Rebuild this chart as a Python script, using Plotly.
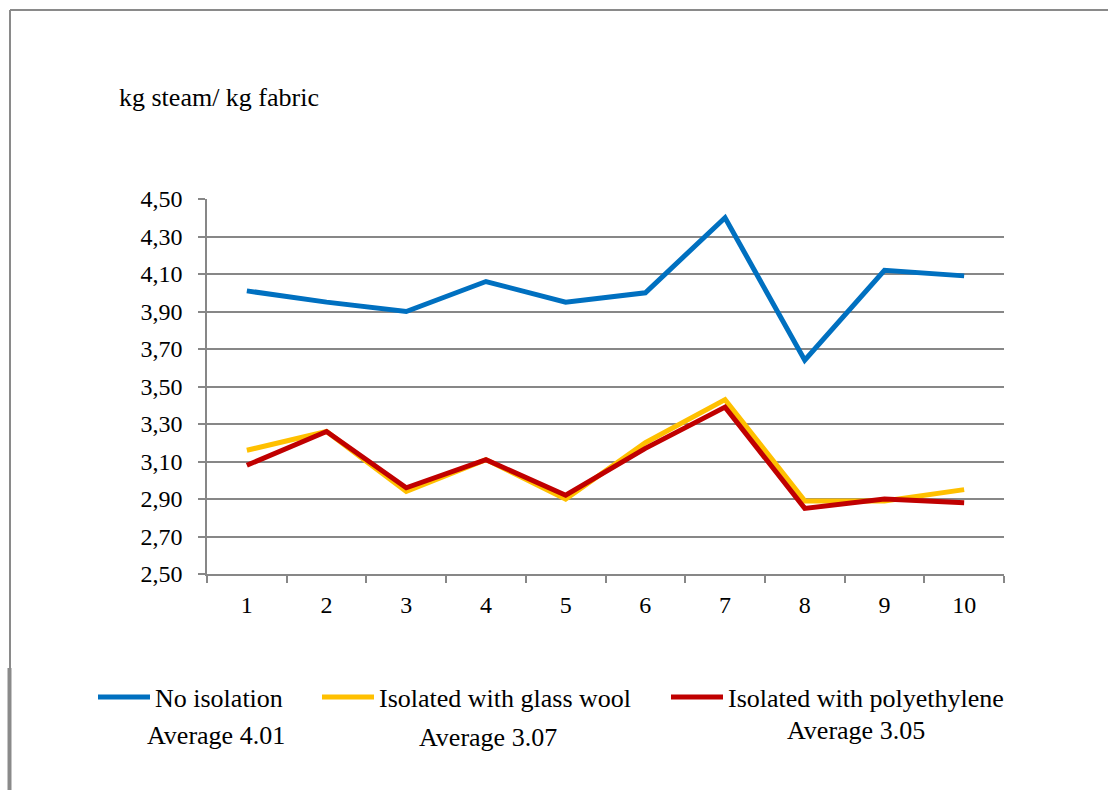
import plotly.graph_objects as go

categories = ["1", "2", "3", "4", "5", "6", "7", "8", "9", "10"]
no_isolation = [4.01, 3.95, 3.90, 4.06, 3.95, 4.00, 4.40, 3.64, 4.12, 4.09]
glass_wool = [3.16, 3.26, 2.94, 3.11, 2.90, 3.20, 3.43, 2.89, 2.89, 2.95]
polyethylene = [3.08, 3.26, 2.96, 3.11, 2.92, 3.17, 3.39, 2.85, 2.90, 2.88]
series_names = ["No isolation", "Isolated with glass wool", "Isolated with polyethylene"]
averages = ["Average 4.01", "Average 3.07", "Average 3.05"]
y_title = "kg steam/ kg fabric"
colors = ["#0070C0", "#FFC000", "#C00000"]

W, H = 1108, 790
L, R, T, B = 207, 104, 199, 216
PW, PH = W - L - R, H - T - B
FONT = "Liberation Serif, Times New Roman, serif"
GRID = "#878787"
TXT = 26
TICK = 24


def px(xp):
    return (xp - L) / PW


def py(yp):
    return (H - B - yp) / PH


fig = go.Figure()
legends = ["legend", "legend2", "legend3"]
for name, vals, col, lg in zip(series_names, [no_isolation, glass_wool, polyethylene], colors, legends):
    fig.add_trace(go.Scatter(x=categories, y=vals, mode="lines", name=name,
                             line=dict(color=col, width=5), legend=lg))

leg_common = dict(orientation="h", xref="container", yref="container", xanchor="left",
                  yanchor="middle", font=dict(family=FONT, size=TXT, color="black"),
                  itemwidth=52, bgcolor="rgba(0,0,0,0)", borderwidth=0)
leg_x = [93, 317, 666]
fig.update_layout(
    legend=dict(x=leg_x[0] / W, y=1 - 697 / H, **leg_common),
    legend2=dict(x=leg_x[1] / W, y=1 - 697 / H, **leg_common),
    legend3=dict(x=leg_x[2] / W, y=1 - 697 / H, **leg_common),
)

fig.update_layout(
    width=W, height=H,
    margin=dict(l=L, r=R, t=T, b=B, autoexpand=False),
    paper_bgcolor="white", plot_bgcolor="white",
    separators=", ",
    font=dict(family=FONT, size=TICK, color="black"),
    showlegend=True,
)
fig.update_xaxes(type="category", range=[-0.5, 9.5], tickson="boundaries", ticks="outside",
                 ticklen=7, tickwidth=1.5, tickcolor=GRID, showgrid=False, showline=True,
                 linecolor=GRID, linewidth=1.5, ticklabelstandoff=8,
                 tickfont=dict(family=FONT, size=TICK, color="black"))
fig.update_yaxes(range=[2.5, 4.5], dtick=0.2, tick0=2.5, tickformat=".2f",
                 showgrid=True, gridcolor=GRID, gridwidth=1.5, zeroline=False,
                 showline=True, linecolor=GRID, linewidth=1.5, ticks="outside",
                 ticklen=7, tickwidth=1.5, tickcolor=GRID, ticklabelstandoff=11,
                 tickfont=dict(family=FONT, size=TICK, color="black"))

annotations = [dict(text=y_title, x=px(117), y=py(98), xanchor="left", yanchor="middle")]
avg_pos = [(216, 735), (488, 737), (856, 730)]
for txt, (ax, ay) in zip(averages, avg_pos):
    annotations.append(dict(text=txt, x=px(ax), y=py(ay), xanchor="center", yanchor="middle"))
for a in annotations:
    a.update(xref="paper", yref="paper", showarrow=False,
             font=dict(family=FONT, size=TXT, color="black"))
fig.update_layout(annotations=annotations)

border = [
    (10, 10, W, 10, 2),
    (10, 10, 10, 668, 2),
    (9.5, 668, 9.5, H, 4),
]
fig.update_layout(shapes=[dict(type="line", xref="paper", yref="paper",
                               x0=px(x0), y0=py(y0), x1=px(x1), y1=py(y1),
                               line=dict(color="#8a8a8a", width=w))
                          for x0, y0, x1, y1, w in border])

fig.write_html("out.html")
